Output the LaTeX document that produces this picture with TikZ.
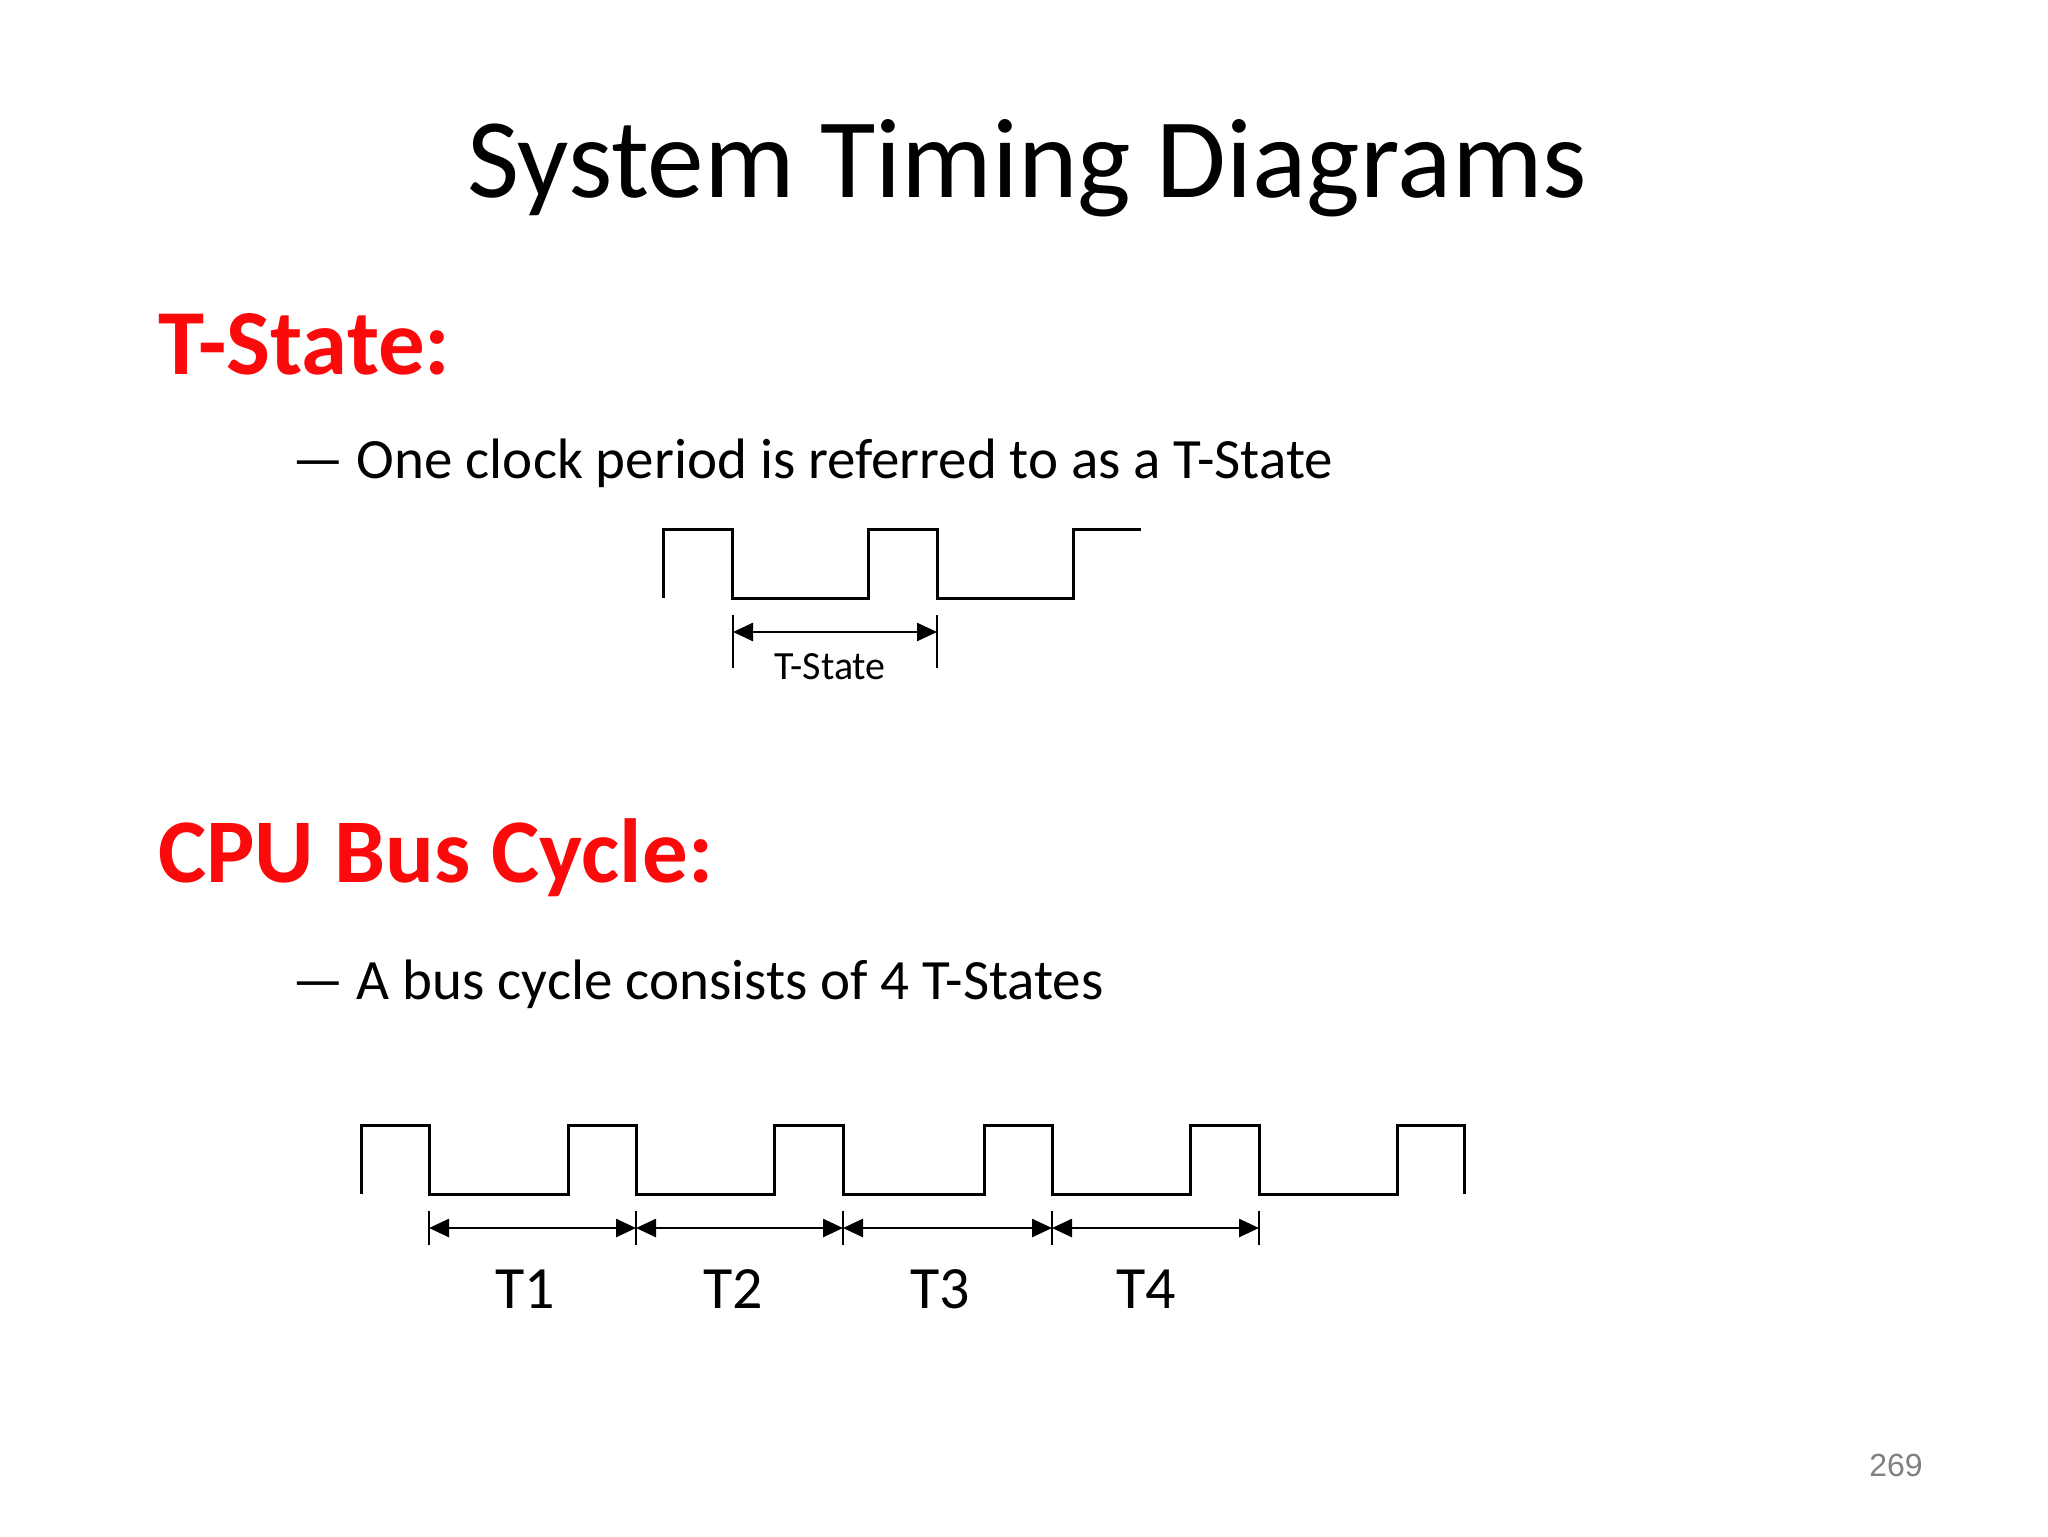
\documentclass[tikz,border=0pt]{standalone}
\usepackage{fontspec}
\setmainfont{Carlito}
\newfontfamily\pgnum{Liberation Sans}
\usetikzlibrary{arrows.meta}
\definecolor{hdred}{RGB}{250,10,10}
\begin{document}
\begin{tikzpicture}[x=0.5pt,y=-0.5pt,
  wave/.style={line width=1.5pt,line join=miter},
  tick/.style={line width=1.2pt},
  dim/.style={line width=1.3pt,{Triangle[length=10pt,width=9pt]}-{Triangle[length=10pt,width=9pt]}},
  heading/.style={anchor=base west,text=hdred,inner sep=0},
  bullet/.style={anchor=base west,font=\fontsize{28.5}{34}\selectfont,inner sep=0}]
\useasboundingbox (0,0) rectangle (2048,1536);
\node (title) at (1027,168) {\fontsize{56.7}{64}\selectfont System Timing Diagrams};
\node[heading,font=\fontsize{46.5}{52}\selectfont\bfseries] (h1) at (158,374) {T-State:};
\node[bullet] (b1) at (292,478) {— One clock period is referred to as a T-State};
\node[heading,font=\fontsize{45.5}{52}\selectfont\bfseries] (h2) at (158,882) {CPU Bus Cycle:};
\node[bullet] (b2) at (292,999) {— A bus cycle consists of 4 T-States};
% top waveform
\draw[wave] (663,598) -- (663,529) -- (732,529) -- (732,598) -- (868,598) -- (868,529) -- (937,529) -- (937,598) -- (1073,598) -- (1073,529) -- (1141,529);
\coordinate (ta) at (733,632);
\coordinate (tb) at (937,632);
\draw[tick] (733,615) -- (733,668);
\draw[tick] (937,615) -- (937,668);
\draw[dim] (ta) -- (tb);
\node (tsl) at (830,667) {\fontsize{20}{24}\selectfont T-State};
% bottom waveform
\draw[wave] (361,1194) -- (361,1125) -- (429,1125) -- (429,1194) -- (568,1194) -- (568,1125) -- (636,1125) -- (636,1194) -- (774,1194) -- (774,1125) -- (843,1125) -- (843,1194) -- (984,1194) -- (984,1125) -- (1052,1125) -- (1052,1194) -- (1190,1194) -- (1190,1125) -- (1259,1125) -- (1259,1194) -- (1397,1194) -- (1397,1125) -- (1464,1125) -- (1464,1194);
\foreach \n/\x in {p0/429,p1/636,p2/843,p3/1052,p4/1259}{
  \coordinate (\n) at (\x,1228);
  \draw[tick] (\x,1211) -- (\x,1245);
}
\draw[dim] (p0) -- (p1);
\draw[dim] (p1) -- (p2);
\draw[dim] (p2) -- (p3);
\draw[dim] (p3) -- (p4);
\foreach \n/\x/\t in {l1/525/T1,l2/733/T2,l3/940/T3,l4/1146/T4}{
  \node[font=\fontsize{30}{36}\selectfont] (\n) at (\x,1289) {\t};
}
\node[text=gray,font=\pgnum\fontsize{16}{19}\selectfont] (pg) at (1896,1465) {269};
\end{tikzpicture}
\end{document}
